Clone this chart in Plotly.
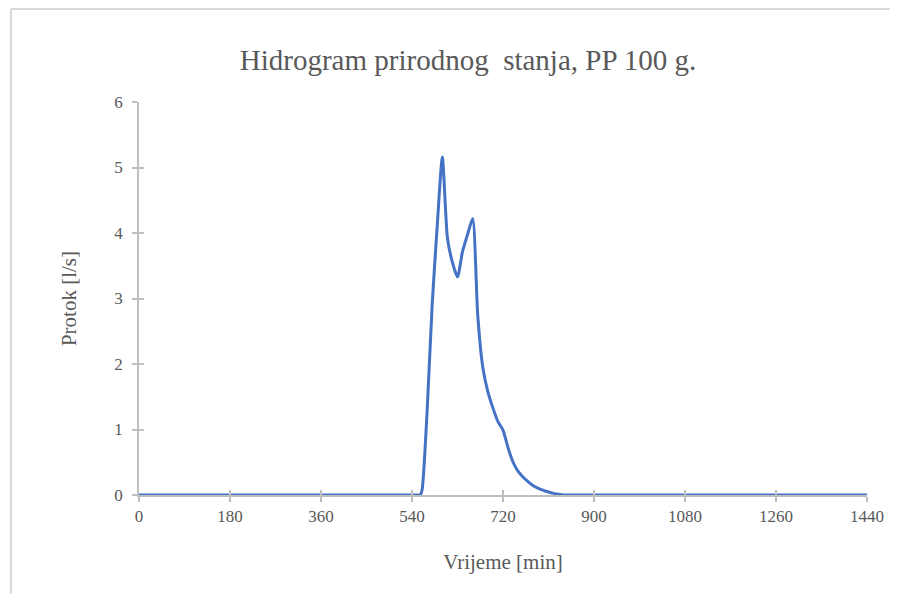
import plotly.graph_objects as go

time_min = [0, 180, 360, 540, 550, 556, 560, 570, 580, 590, 600, 610, 620, 630, 640, 650, 660,
            670, 680, 690, 700, 710, 720, 730, 740, 750, 760, 770, 780, 790, 800, 810,
            820, 830, 840, 850, 900, 1080, 1260, 1440]
flow_ls = [0, 0, 0, 0, 0, 0, 0.08, 1.3, 2.92, 4.12, 5.16, 3.93, 3.55, 3.33, 3.72, 3.98, 4.22,
           2.75, 1.95, 1.58, 1.33, 1.12, 0.99, 0.72, 0.50, 0.36, 0.27, 0.20, 0.14, 0.10, 0.07, 0.045,
           0.025, 0.01, 0.0, 0, 0, 0, 0, 0]

x_ticks = [0, 180, 360, 540, 720, 900, 1080, 1260, 1440]
y_ticks = [0, 1, 2, 3, 4, 5, 6]

title_text = "Hidrogram prirodnog  stanja, PP 100 g."
x_title = "Vrijeme [min]"
y_title = "Protok [l/s]"

FONT = "Liberation Serif, serif"
GREY = "#595959"
AXIS = "#bfbfbf"

# plot area in page pixels: x 139..872, y 102..495 ; body margin 8px
W, H = 888, 586
L, T = 131, 94
R = (W + 8) - 872
B = (H + 8) - 495
PW, PH = 872 - 139, 495 - 102

fig = go.Figure()
fig.add_trace(go.Scatter(
    x=time_min, y=flow_ls, mode="lines",
    line=dict(color="#4472c4", width=3, shape="spline", smoothing=0.6),
    hoverinfo="x+y", showlegend=False,
))
# overlay axis to make crossing tick marks
fig.add_trace(go.Scatter(x=[0, 1440], y=[0, 0], xaxis="x2", yaxis="y2",
                         mode="lines", line=dict(width=0), showlegend=False, hoverinfo="skip"))

fig.update_layout(
    width=W, height=H,
    margin=dict(l=L, r=R, t=T, b=B),
    paper_bgcolor="white", plot_bgcolor="white",
    font=dict(family=FONT, color=GREY, size=16),
    title=dict(text=title_text, x=(468 - 8) / W, xanchor="center", y=1 - (60 - 8) / H, yanchor="middle",
               font=dict(family=FONT, size=29, color=GREY)),
    xaxis=dict(range=[0, 1440], tickvals=x_ticks, ticktext=[str(v) for v in x_ticks],
               showgrid=False, zeroline=False, showline=True, linecolor=AXIS, linewidth=1.5,
               ticks="outside", ticklen=5, tickcolor=AXIS, tickwidth=1.5,
               tickfont=dict(family=FONT, size=17, color=GREY),
               title=dict(text=x_title, font=dict(family=FONT, size=21, color=GREY), standoff=29)),
    yaxis=dict(range=[0, 6], tickvals=y_ticks, showgrid=False, zeroline=False,
               showline=True, linecolor=AXIS, linewidth=1.5,
               ticks="outside", ticklen=5, tickcolor=AXIS, tickwidth=1.5, ticklabelstandoff=6,
               tickfont=dict(family=FONT, size=17, color=GREY),
               title=dict(text=y_title, font=dict(family=FONT, size=21, color=GREY), standoff=32)),
    xaxis2=dict(range=[0, 1440], overlaying="x", tickvals=x_ticks, showticklabels=False,
                ticks="inside", ticklen=5, tickcolor=AXIS, tickwidth=1.5, side="bottom",
                showgrid=False, zeroline=False, showline=False),
    yaxis2=dict(range=[0, 6], overlaying="y", tickvals=y_ticks, showticklabels=False,
                ticks="inside", ticklen=5, tickcolor=AXIS, tickwidth=1.5, side="left",
                showgrid=False, zeroline=False, showline=False),
    shapes=[
        dict(type="line", xref="paper", yref="paper",
             x0=(10 - 139) / PW, x1=(895 - 139) / PW,
             y0=(495 - 9) / PH, y1=(495 - 9) / PH,
             line=dict(color="#d9d9d9", width=2)),
        dict(type="line", xref="paper", yref="paper",
             x0=(10 - 139) / PW, x1=(10 - 139) / PW,
             y0=(495 - 9) / PH, y1=(495 - 600) / PH,
             line=dict(color="#d9d9d9", width=2)),
    ],
)

fig.write_html("out.html")
